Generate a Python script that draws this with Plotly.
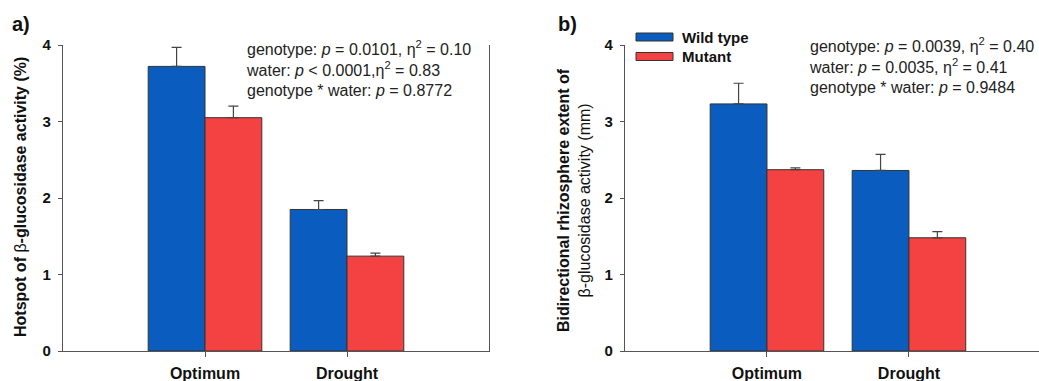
import plotly.graph_objects as go

# Water regimes (x categories) and genotypes
conditions = ["Optimum", "Drought"]
genotypes = ["Wild type", "Mutant"]

# a) Hotspot of beta-glucosidase activity (%)
hotspot_wild = [3.72, 1.85]
hotspot_wild_se = [0.25, 0.115]
hotspot_mutant = [3.05, 1.24]
hotspot_mutant_se = [0.15, 0.04]

# b) Bidirectional rhizosphere extent of beta-glucosidase activity (mm)
extent_wild = [3.23, 2.36]
extent_wild_se = [0.27, 0.21]
extent_mutant = [2.37, 1.48]
extent_mutant_se = [0.025, 0.08]

y_ticks = [0, 1, 2, 3, 4]

BLUE = "#0a5cbf"
RED = "#f44242"
EDGE = "#333333"
AXIS = "#555555"
FONT = "Arial, Liberation Sans, sans-serif"

W, H = 1039, 381


def px_x(p):
    return p / W


def px_y(p):
    return 1 - p / H


fig = go.Figure()


def add_bars(values, errors, colour, name, xa, ya):
    fig.add_trace(go.Bar(
        x=conditions, y=values, name=name,
        marker=dict(color=colour, line=dict(color=EDGE, width=1)),
        error_y=dict(type="data", array=errors, arrayminus=[0] * len(errors),
                     symmetric=False, color="#444444", thickness=1.2, width=5),
        xaxis=xa, yaxis=ya, showlegend=False,
    ))


add_bars(hotspot_wild, hotspot_wild_se, BLUE, genotypes[0], "x", "y")
add_bars(hotspot_mutant, hotspot_mutant_se, RED, genotypes[1], "x", "y")
add_bars(extent_wild, extent_wild_se, BLUE, genotypes[0], "x2", "y2")
add_bars(extent_mutant, extent_mutant_se, RED, genotypes[1], "x2", "y2")

y_dom = [px_y(351), px_y(45)]

xaxis_common = dict(
    type="category", showline=True, linecolor=AXIS, linewidth=1.2, automargin=False,
    ticks="outside", ticklen=5, tickcolor=AXIS, showgrid=False, zeroline=False,
    ticklabelstandoff=3,
    tickfont=dict(family=FONT, size=16, color="#111", weight="bold"),
)
yaxis_common = dict(
    range=[0, 4], tickvals=y_ticks, showline=True, linecolor=AXIS, linewidth=1.2,
    automargin=False, ticklabelstandoff=4,
    ticks="outside", ticklen=4, tickcolor=AXIS, showgrid=False, zeroline=False,
    tickfont=dict(family=FONT, size=15, color="#111", weight="bold"),
    domain=y_dom,
)

fig.update_layout(
    width=W, height=H, margin=dict(l=0, r=0, t=0, b=0, autoexpand=False),
    paper_bgcolor="white", plot_bgcolor="white",
    barmode="group", bargap=0.2, bargroupgap=0,
    font=dict(family=FONT, color="#222"),
    xaxis=dict(**xaxis_common, domain=[px_x(63), px_x(489)], range=[-1, 2], anchor="y"),
    yaxis=dict(**yaxis_common, anchor="x", mirror=True),
    xaxis2=dict(**xaxis_common, domain=[px_x(625), 1.0], range=[-1, 1.916], anchor="y2"),
    yaxis2=dict(**yaxis_common, anchor="x2"),
)

stat_font = dict(family=FONT, size=16, color="#222")
annotations = [
    dict(x=px_x(10), y=px_y(24), text="<b>a)</b>", xanchor="left", yanchor="middle",
         font=dict(family=FONT, size=20, color="#111")),
    dict(x=px_x(556), y=px_y(24), text="<b>b)</b>", xanchor="left", yanchor="middle",
         font=dict(family=FONT, size=20, color="#111")),
    dict(x=px_x(20), y=px_y(197),
         text="<b>Hotspot of </b>β<b>-glucosidase activity (%)</b>",
         textangle=-90, xanchor="center", yanchor="middle",
         font=dict(family=FONT, size=16, color="#111")),
    dict(x=px_x(574), y=px_y(200),
         text="<b>Bidirectional rhizosphere extent of</b><br>β-glucosidase activity (mm)",
         textangle=-90, xanchor="center", yanchor="middle",
         font=dict(family=FONT, size=16, color="#111")),
    dict(x=px_x(244), y=px_y(36), xanchor="left", yanchor="top", align="left",
         text="genotype: <i>p</i> = 0.0101, η<sup>2</sup> = 0.10<br>"
              "water: <i>p</i> &lt; 0.0001,η<sup>2</sup> = 0.83<br>"
              "genotype * water: <i>p</i> = 0.8772",
         font=stat_font),
    dict(x=px_x(807), y=px_y(33), xanchor="left", yanchor="top", align="left",
         text="genotype: <i>p</i> = 0.0039, η<sup>2</sup> = 0.40<br>"
              "water: <i>p</i> = 0.0035, η<sup>2</sup> = 0.41<br>"
              "genotype * water: <i>p</i> = 0.9484",
         font=stat_font),
]

# Legend: swatches with labels
shapes = []
for i, (g, colour) in enumerate(zip(genotypes, [BLUE, RED])):
    yc = 37 + i * 19.5
    shapes.append(dict(type="rect", xref="paper", yref="paper",
                       x0=px_x(636), x1=px_x(673), y0=px_y(yc - 4), y1=px_y(yc + 4),
                       fillcolor=colour, line=dict(color=EDGE, width=1)))
    annotations.append(dict(x=px_x(680), y=px_y(yc), text=f"<b>{g}</b>",
                            xanchor="left", yanchor="middle",
                            font=dict(family=FONT, size=15, color="#111")))

for a in annotations:
    a.setdefault("xref", "paper")
    a.setdefault("yref", "paper")
    a.setdefault("showarrow", False)

fig.update_layout(annotations=annotations, shapes=shapes)

fig.write_html("out.html")
